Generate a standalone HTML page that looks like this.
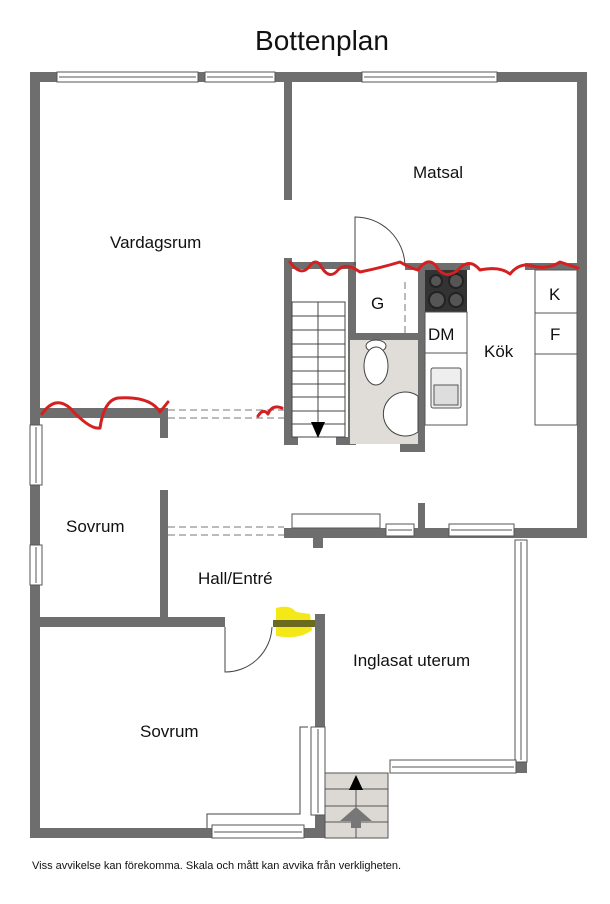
<!DOCTYPE html>
<html><head><meta charset="utf-8"><style>
body{margin:0;background:#fff}
svg text{font-family:"Liberation Sans",sans-serif;fill:#111}
</style></head><body>
<svg width="610" height="899" viewBox="0 0 610 899" xmlns="http://www.w3.org/2000/svg">
<text x="322" y="50" font-size="28" text-anchor="middle">Bottenplan</text>
<g fill="#6e6e6e">
<rect x="30" y="72" width="557" height="10"/>
<rect x="30" y="72" width="10" height="766"/>
<rect x="577" y="72" width="10" height="466"/>
<rect x="284" y="528" width="303" height="10"/>
<rect x="30" y="828" width="295" height="10"/>
<rect x="315" y="614" width="10" height="224"/>
<rect x="313" y="528" width="10" height="20"/>
<rect x="418" y="503" width="7" height="30"/>
<rect x="284" y="82" width="8" height="118"/>
<rect x="40" y="408" width="128" height="10"/>
<rect x="160" y="408" width="8" height="30"/>
<rect x="284" y="258" width="8" height="187"/>
<rect x="284" y="262" width="66" height="7"/>
<rect x="348" y="262" width="8" height="183"/>
<rect x="284" y="437" width="14" height="8"/>
<rect x="336" y="437" width="20" height="8"/>
<rect x="348" y="333" width="72" height="7"/>
<rect x="405" y="263" width="65" height="7"/>
<rect x="525" y="263" width="52" height="7"/>
<rect x="418" y="268" width="7" height="184"/>
<rect x="400" y="444" width="25" height="8"/>
<rect x="160" y="490" width="8" height="127"/>
<rect x="40" y="617" width="185" height="10"/>
<rect x="390" y="762" width="10" height="11"/>
<rect x="515" y="762" width="12" height="11"/>
</g>
<g fill="#fff" stroke="#555" stroke-width="1">
<rect x="57" y="72" width="141" height="10"/><line x1="59" y1="77" x2="196" y2="77"/>
<rect x="205" y="72" width="70" height="10"/><line x1="207" y1="77" x2="273" y2="77"/>
<rect x="362" y="72" width="135" height="10"/><line x1="364" y1="77" x2="495" y2="77"/>
<rect x="30" y="425" width="12" height="60"/><line x1="36" y1="427" x2="36" y2="483"/>
<rect x="30" y="545" width="12" height="40"/><line x1="36" y1="547" x2="36" y2="583"/>
<rect x="449" y="524" width="65" height="12"/><line x1="451" y1="530" x2="512" y2="530"/>
<rect x="386" y="524" width="28" height="12"/><line x1="388" y1="530" x2="412" y2="530"/>
<rect x="292" y="514" width="88" height="14"/>
<rect x="515" y="540" width="12" height="222"/><line x1="521" y1="542" x2="521" y2="760"/>
<rect x="390" y="760" width="126" height="13"/><line x1="392" y1="767" x2="514" y2="767"/>
<rect x="311" y="727" width="14" height="88"/><line x1="318" y1="729" x2="318" y2="813"/>
<rect x="212" y="825" width="92" height="13"/><line x1="214" y1="832" x2="302" y2="832"/>
</g>
<polyline points="308,727 300,727 300,814 207,814 207,828" fill="none" stroke="#444"/>
<g stroke="#777" stroke-dasharray="7,4" stroke-width="1">
<line x1="168" y1="410" x2="284" y2="410"/><line x1="168" y1="418" x2="284" y2="418"/>
<line x1="168" y1="527" x2="284" y2="527"/><line x1="168" y1="535" x2="284" y2="535"/>
<line x1="405" y1="282" x2="405" y2="335"/><line x1="556" y1="355" x2="556" y2="425"/>
</g>
<g fill="none" stroke="#444">
<path d="M355 265 L355 217 A50 50 0 0 1 405 265"/>
<path d="M225 627 L225 672 A47 47 0 0 0 272 627"/>
</g>
<rect x="292" y="302" width="53" height="135" fill="#fff" stroke="#444"/>
<g stroke="#444"><line x1="318" y1="302" x2="318" y2="437"/>
<line x1="292" y1="316" x2="345" y2="316"/><line x1="292" y1="330" x2="345" y2="330"/><line x1="292" y1="344" x2="345" y2="344"/><line x1="292" y1="357" x2="345" y2="357"/><line x1="292" y1="371" x2="345" y2="371"/><line x1="292" y1="384" x2="345" y2="384"/><line x1="292" y1="397" x2="345" y2="397"/><line x1="292" y1="411" x2="345" y2="411"/><line x1="292" y1="424" x2="345" y2="424"/></g>
<polygon points="311,422 325,422 318,438" fill="#000"/>
<rect x="350" y="340" width="68" height="104" fill="#e0ddd9"/>
<ellipse cx="376" cy="346" rx="10" ry="6" fill="#fff" stroke="#444"/>
<ellipse cx="376" cy="366" rx="12" ry="19" fill="#fff" stroke="#444"/>
<path d="M418 396 A22 22 0 1 0 418 432 Z" fill="#fff" stroke="#444"/>
<rect x="425" y="270" width="42" height="42" fill="#333"/>
<g fill="#555" stroke="#222" stroke-width="2"><circle cx="436" cy="281" r="6"/><circle cx="456" cy="281" r="7"/><circle cx="437" cy="300" r="8"/><circle cx="456" cy="300" r="7"/></g>
<rect x="425" y="312" width="42" height="113" fill="#fff" stroke="#555"/>
<line x1="425" y1="353" x2="467" y2="353" stroke="#555"/>
<rect x="431" y="368" width="30" height="40" rx="2" fill="#eee" stroke="#555"/>
<rect x="434" y="385" width="24" height="20" fill="#ddd" stroke="#555"/>
<rect x="535" y="270" width="42" height="155" fill="#fff" stroke="#555"/>
<line x1="535" y1="313" x2="577" y2="313" stroke="#555"/><line x1="535" y1="354" x2="577" y2="354" stroke="#555"/>
<rect x="325" y="773" width="63" height="65" fill="#dcd9d4" stroke="#555"/>
<g stroke="#555"><line x1="325" y1="789" x2="388" y2="789"/><line x1="325" y1="806" x2="388" y2="806"/><line x1="325" y1="822" x2="388" y2="822"/><line x1="356" y1="790" x2="356" y2="838"/></g>
<polygon points="356,775 349,790 363,790" fill="#000"/>
<polygon points="356,807 340,821 351,821 351,828 361,828 361,821 372,821" fill="#777"/>
<path d="M276 608 Q290 604 296 612 L310 614 L312 630 Q300 640 276 636 Z" fill="#f3e600" opacity="0.9"/>
<rect x="273" y="620" width="42" height="7" fill="#6b6b20"/>
<g fill="none" stroke="#d42020" stroke-width="3" stroke-linecap="round" stroke-linejoin="round">
<path d="M42,414 Q55,395 70,408 Q90,430 100,428 Q104,400 118,398 Q150,396 160,412 L168,402"/>
<path d="M258,416 Q263,408 268,414 Q272,404 282,408"/>
<path d="M290,262 Q300,276 308,268 Q316,256 322,268 Q330,280 338,270 Q346,262 360,272 Q380,268 400,262 Q410,268 418,270 Q428,256 436,266 Q446,282 460,268 Q470,258 480,270 Q500,266 510,274 Q520,262 532,266 Q548,270 560,262 L578,268"/>
</g>
<g font-size="17">
<text x="413" y="178">Matsal</text>
<text x="110" y="248">Vardagsrum</text>
<text x="371" y="309">G</text>
<text x="428" y="340">DM</text>
<text x="484" y="357">Kök</text>
<text x="549" y="300">K</text>
<text x="550" y="340">F</text>
<text x="66" y="532">Sovrum</text>
<text x="198" y="584">Hall/Entré</text>
<text x="353" y="666">Inglasat uterum</text>
<text x="140" y="737">Sovrum</text>
</g>
<text x="32" y="869" font-size="11">Viss avvikelse kan förekomma. Skala och mått kan avvika från verkligheten.</text>
</svg>
</body></html>
